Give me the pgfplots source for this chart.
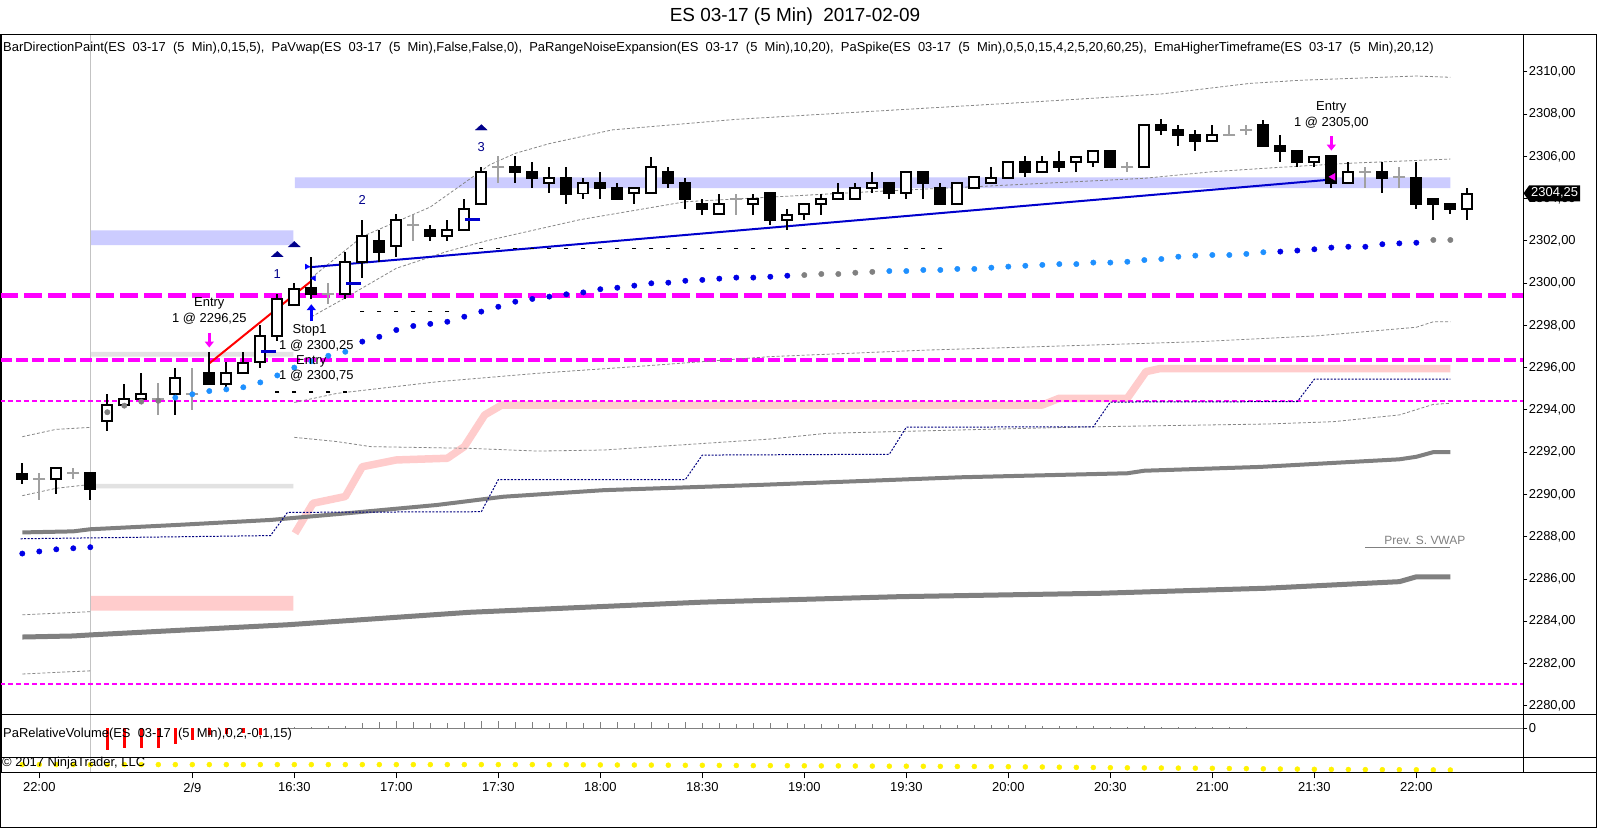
\documentclass[border=0pt]{standalone}
\usepackage{fontspec}
\setmainfont{Liberation Sans}
\usepackage{pgfplots}
\pgfplotsset{compat=1.18}
\usepackage{pgfplotstable}
\usetikzlibrary{arrows.meta,shapes.symbols}

\definecolor{mag}{RGB}{255,0,255}
\definecolor{pinkband}{RGB}{255,204,204}
\definecolor{lav}{RGB}{204,204,255}
\definecolor{lgband}{RGB}{226,226,226}
\definecolor{vwapblue}{RGB}{0,0,230}
\definecolor{vwaplight}{RGB}{30,144,255}
\definecolor{vwapgrey}{RGB}{128,128,128}
\definecolor{dojigray}{RGB}{160,160,160}
\definecolor{navyline}{RGB}{0,0,128}
\definecolor{tri}{RGB}{0,0,139}
\definecolor{spike}{RGB}{0,0,205}
\definecolor{bandgray}{RGB}{135,135,135}
\definecolor{emagray}{RGB}{128,128,128}
\definecolor{sessgray}{RGB}{195,195,195}

% ---------- candles ----------
\pgfplotstableread{
x o h l c
0 2291.00 2291.50 2290.50 2290.75
4 2291.00 2291.00 2289.75 2290.25
11 2295.75 2296.75 2295.25 2295.25
17 2299.75 2301.25 2299.25 2299.50
21 2302.00 2302.50 2301.00 2301.50
24 2302.50 2302.75 2302.00 2302.25
29 2305.50 2306.00 2304.75 2305.25
30 2305.25 2305.75 2304.50 2305.00
32 2305.00 2305.50 2303.75 2304.25
34 2304.75 2305.25 2304.00 2304.50
35 2304.50 2304.75 2304.00 2304.00
38 2305.25 2305.50 2304.50 2304.75
39 2304.75 2305.00 2303.50 2304.00
40 2303.75 2304.00 2303.25 2303.50
44 2304.25 2304.25 2302.75 2303.00
51 2304.75 2304.75 2304.00 2304.25
53 2305.25 2305.25 2304.00 2304.75
54 2304.50 2304.75 2303.75 2303.75
59 2305.75 2306.00 2305.00 2305.25
61 2305.75 2306.25 2305.25 2305.50
64 2306.25 2306.25 2305.50 2305.50
67 2307.50 2307.75 2307.00 2307.25
68 2307.25 2307.50 2306.50 2307.00
69 2307.00 2307.25 2306.25 2306.75
73 2307.50 2307.75 2306.50 2306.50
74 2306.50 2307.00 2305.75 2306.25
75 2306.25 2306.25 2305.50 2305.75
77 2306.00 2306.00 2304.50 2304.75
80 2305.25 2305.75 2304.25 2305.00
82 2305.00 2305.75 2303.50 2303.75
83 2304.00 2304.00 2303.00 2303.75
84 2303.75 2303.75 2303.25 2303.50
}\downbars

\pgfplotstableread{
x o h l c
2 2290.75 2291.25 2290.00 2291.25
5 2293.50 2294.75 2293.00 2294.25
6 2294.25 2295.25 2294.25 2294.50
7 2294.50 2295.75 2294.50 2294.75
9 2294.75 2296.00 2293.75 2295.50
12 2295.25 2296.25 2295.00 2295.75
13 2295.75 2296.75 2295.75 2296.25
14 2296.25 2298.00 2296.00 2297.50
15 2297.50 2299.50 2297.25 2299.25
16 2299.00 2300.00 2299.00 2299.75
19 2299.50 2301.50 2299.25 2301.00
20 2301.00 2303.00 2300.25 2302.25
22 2301.75 2303.25 2301.25 2303.00
25 2302.25 2303.00 2302.00 2302.50
26 2302.50 2304.00 2302.50 2303.50
27 2303.75 2305.50 2303.75 2305.25
31 2304.75 2305.50 2304.25 2305.00
33 2304.25 2305.00 2304.00 2304.75
36 2304.25 2304.50 2303.75 2304.50
37 2304.25 2306.00 2304.25 2305.50
41 2303.25 2304.25 2303.25 2303.75
43 2303.75 2304.25 2303.25 2304.00
45 2303.00 2303.50 2302.50 2303.25
46 2303.25 2303.75 2303.00 2303.75
47 2303.75 2304.25 2303.25 2304.00
48 2304.00 2304.75 2304.00 2304.25
49 2304.00 2304.75 2304.00 2304.50
50 2304.50 2305.25 2304.25 2304.75
52 2304.25 2305.25 2304.00 2305.25
55 2303.75 2304.75 2303.75 2304.75
56 2304.50 2305.00 2304.50 2305.00
57 2304.75 2305.50 2304.75 2305.00
58 2305.00 2305.75 2305.00 2305.75
60 2305.25 2306.00 2305.25 2305.75
62 2305.75 2306.00 2305.25 2306.00
63 2305.75 2306.25 2305.50 2306.25
66 2305.50 2307.50 2305.50 2307.50
70 2306.75 2307.50 2306.75 2307.00
76 2305.75 2306.00 2305.50 2306.00
78 2304.75 2305.75 2304.75 2305.25
85 2303.50 2304.50 2303.00 2304.25
}\upbars

\pgfplotstableread{
x o h l
1 2290.75 2291.00 2289.75
3 2291.00 2291.25 2290.75
8 2294.50 2295.25 2293.75
10 2294.75 2296.00 2294.00
18 2299.50 2300.00 2299.00
23 2302.75 2303.25 2302.00
28 2305.50 2306.00 2304.75
42 2304.00 2304.25 2303.25
65 2305.50 2305.75 2305.25
71 2307.00 2307.50 2307.00
72 2307.25 2307.50 2307.00
79 2305.25 2305.50 2304.50
81 2305.00 2305.50 2304.50
}\dojibars

% ---------- VWAP dots ----------
\pgfplotstableread{
x y k
0 2287.20 b
1 2287.30 b
2 2287.40 b
3 2287.45 b
4 2287.50 b
5 2293.89 g
6 2294.20 g
7 2294.39 g
8 2294.43 g
9 2294.58 l
10 2294.74 l
11 2294.89 l
12 2294.97 l
13 2295.07 l
14 2295.30 l
15 2295.63 l
16 2296.00 l
17 2296.30 l
18 2296.56 l
19 2296.75 l
20 2297.23 b
21 2297.46 b
22 2297.78 b
23 2297.97 b
24 2298.07 b
25 2298.17 b
26 2298.41 b
27 2298.65 b
28 2298.88 b
29 2299.12 b
30 2299.25 b
31 2299.36 b
32 2299.47 b
33 2299.56 b
34 2299.71 b
35 2299.78 b
36 2299.88 b
37 2299.99 b
38 2300.02 b
39 2300.11 b
40 2300.15 b
41 2300.21 b
42 2300.26 b
43 2300.26 b
44 2300.30 b
45 2300.35 b
46 2300.38 g
47 2300.43 g
48 2300.43 g
49 2300.49 g
50 2300.53 g
51 2300.57 l
52 2300.57 l
53 2300.62 l
54 2300.62 l
55 2300.67 l
56 2300.67 l
57 2300.73 l
58 2300.78 l
59 2300.82 l
60 2300.86 l
61 2300.90 l
62 2300.90 l
63 2300.97 l
64 2300.97 l
65 2301.01 l
66 2301.09 l
67 2301.14 l
68 2301.25 l
69 2301.30 l
70 2301.33 l
71 2301.33 l
72 2301.38 l
73 2301.46 l
74 2301.49 b
75 2301.54 b
76 2301.60 b
77 2301.68 b
78 2301.72 b
79 2301.72 b
80 2301.84 b
81 2301.88 b
82 2301.91 b
83 2302.04 g
84 2302.04 g
}\vwap

% ---------- small black dashes ----------
\pgfplotstableread{
x y
15 2294.85
16 2294.85
17 2294.85
18 2294.85
19 2294.85
20 2298.65
21 2298.65
22 2298.65
23 2298.65
24 2298.65
25 2298.65
27 2301.65
28 2301.65
29 2301.65
30 2301.65
31 2301.65
32 2301.65
33 2301.65
34 2301.65
35 2301.65
36 2301.65
37 2301.65
38 2301.65
39 2301.65
40 2301.65
41 2301.65
42 2301.65
43 2301.65
44 2301.65
45 2301.65
46 2301.65
47 2301.65
48 2301.65
49 2301.65
50 2301.65
51 2301.65
52 2301.65
53 2301.65
54 2301.65
}\smalldash

% ---------- volume ----------
\pgfplotstableread{
x v
5 -21.7
6 -20.0
7 -19.4
8 -20.0
9 -16.0
10 -11.7
11 -6.7
12 -6.0
13 -5.0
14 -6.7
}\volred

\pgfplotstableread{
x v
16 0.8
17 1.2
18 1.8
19 2.5
20 5.6
21 6.6
22 7.6
23 6.6
24 5.6
25 5.6
26 6.6
27 7.0
28 7.6
29 6.6
30 6.6
31 5.6
32 6.6
33 5.6
34 6.6
35 6.6
36 5.6
37 6.6
38 5.6
39 6.6
40 5.6
41 5.6
42 4.6
43 5.6
44 5.6
45 5.0
46 4.6
47 4.6
48 4.0
49 4.6
50 4.0
51 4.0
52 4.0
53 3.6
54 3.6
55 3.3
56 3.3
57 3.3
58 3.3
59 3.3
60 2.5
61 2.5
62 2.5
63 2.5
64 1.7
65 1.3
66 2.0
67 1.3
68 1.3
69 1.3
70 1.3
71 1.3
72 1.0
82 -1.0
84 -0.5
}\volgrey

\pgfplotstableread{
x y
0 -7.3
1 -7.3
2 -7.3
3 -7.3
4 -7.3
5 -7.3
6 -7.3
7 -7.3
8 -7.3
9 -7.3
10 -7.3
11 -7.3
12 -7.3
13 -7.3
14 -7.3
15 -7.3
16 -7.3
17 -7.3
18 -7.3
19 -7.3
20 -7.3
21 -7.3
22 -7.3
23 -7.3
24 -7.3
25 -7.3
26 -7.3
27 -7.3
28 -7.3
29 -7.3
30 -7.3
31 -7.4
32 -7.4
33 -7.5
34 -7.6
35 -7.7
36 -7.7
37 -7.8
38 -7.9
39 -8.0
40 -8.0
41 -8.1
42 -8.2
43 -8.3
44 -8.3
45 -8.4
46 -8.5
47 -8.6
48 -8.6
49 -8.7
50 -8.8
51 -8.9
52 -8.9
53 -9.0
54 -9.1
55 -9.2
56 -9.2
57 -9.3
58 -9.4
59 -9.6
60 -9.7
61 -9.9
62 -10.1
63 -10.2
64 -10.4
65 -10.5
66 -10.6
67 -10.7
68 -10.8
69 -10.9
70 -11.0
71 -11.2
72 -11.3
73 -11.5
74 -11.7
75 -11.8
76 -12.0
77 -12.1
78 -12.2
79 -12.3
80 -12.4
81 -12.4
82 -12.5
83 -12.6
84 -12.7
}\yellowdots

\begin{document}
\begin{tikzpicture}[x=1bp,y=1bp,font=\fontsize{13}{15}\selectfont]
\path[use as bounding box] (0,0) rectangle (1600,828);
\fill[white] (0,0) rectangle (1600,828);

% ================= MAIN PRICE PANEL =================
\begin{axis}[
  at={(1bp,113.7bp)}, anchor=south west, scale only axis,
  width=1522.3bp, height=680bp,
  xmin=-1.253, xmax=88.294, ymin=2279.593, ymax=2311.775,
  xtick=\empty,
  ytick={2280,2282,2284,2286,2288,2290,2292,2294,2296,2298,2300,2302,2304,2306,2308,2310},
  ytick pos=right, yticklabel pos=right,
  tick align=outside, major tick length=4bp,
  tick style={black, line width=0.8bp},
  axis line style={line width=1bp},
  tick label style={font=\fontsize{13}{15}\selectfont},
  yticklabel style={anchor=west, xshift=-2bp, /pgf/number format/.cd, fixed, fixed zerofill, precision=2, use comma, 1000 sep={}, assume math mode=true},
  clip mode=individual,
]
% bands
\addplot[fill=lav, draw=none] coordinates {(4,2301.8) (15.94,2301.8) (15.94,2302.5) (4,2302.5) (4,2301.8)};
\addplot[fill=lav, draw=none] coordinates {(16.04,2304.5) (84,2304.5) (84,2305.0) (16.04,2305.0) (16.04,2304.5)};
\addplot[fill=lgband, draw=none] coordinates {(4,2296.52) (15.94,2296.52) (15.94,2296.75) (4,2296.75) (4,2296.52)};
\addplot[fill=lgband, draw=none] coordinates {(4,2290.29) (15.94,2290.29) (15.94,2290.5) (4,2290.5) (4,2290.29)};
\addplot[fill=pinkband, draw=none] coordinates {(4,2284.5) (15.94,2284.5) (15.94,2285.2) (4,2285.2) (4,2284.5)};
% session line
\addplot[sessgray, line width=1bp] coordinates {(4,2279.593) (4,2311.775)};
% pink thick line
\addplot[pinkband, line width=7.5bp, line join=round] coordinates {
(16.04,2288.16) (17.1,2289.58) (19,2289.9) (20,2291.31) (22,2291.63) (25,2291.71)
(26,2292.26) (27.2,2293.76) (28.2,2294.23) (60,2294.23) (61,2294.55) (65,2294.55)
(66.1,2295.81) (66.9,2295.95) (84,2295.95)};
% magenta levels
\addplot[mag, line width=5bp, dash pattern=on 18bp off 6bp] coordinates {(-1.3,2299.4) (88.3,2299.4)};
\addplot[mag, line width=3.5bp, dash pattern=on 12bp off 4bp] coordinates {(-1.3,2296.35) (88.3,2296.35)};
\addplot[mag, line width=2bp, dash pattern=on 5bp off 3bp] coordinates {(-1.3,2294.4) (88.3,2294.4)};
\addplot[mag, line width=2bp, dash pattern=on 5bp off 3bp] coordinates {(-1.3,2281.05) (88.3,2281.05)};
% noise expansion bands (thin grey dashed)
\addplot[bandgray, line width=0.8bp, dash pattern=on 3bp off 2bp] coordinates {
(17,2300.25) (20,2302.2) (24,2303.6) (27.5,2305.6) (29,2306.14) (31,2306.6) (34.7,2307.25)
(42,2307.75) (50,2308.13) (60,2308.6) (67,2308.95) (72.2,2309.45) (75.2,2309.6) (82,2309.8) (84,2309.74)};
\addplot[bandgray, line width=0.8bp, dash pattern=on 3bp off 2bp] coordinates {
(17,2298.4) (19,2299.3) (22,2300.7) (25,2301.5) (27.3,2302.0) (32.8,2303.0) (39,2303.85)
(50,2304.33) (56,2304.56) (60,2304.72) (66,2304.96) (70,2305.27) (73.4,2305.45) (78,2305.67) (84,2305.87)};
\addplot[bandgray, line width=0.8bp, dash pattern=on 3bp off 2bp] coordinates {
(16,2294.35) (18.5,2294.78) (24.4,2295.33) (30.3,2295.73) (36.1,2296.05) (44,2296.52) (53.2,2296.83)
(63,2297.07) (69.3,2297.23) (76.1,2297.5) (82,2297.91) (83,2298.17) (84,2298.17)};
\addplot[bandgray, line width=0.8bp, dash pattern=on 3bp off 2bp] coordinates {
(16,2292.7) (18.5,2292.5) (20.5,2292.26) (26.3,2292.18) (30.3,2292.05) (34.2,2292.1) (44,2292.62)
(47.3,2292.89) (55.2,2293.05) (63,2293.2) (73.2,2293.33) (77.1,2293.44) (81,2293.76) (83,2294.26) (84,2294.31)};
% previous session bands
\addplot[bandgray, line width=0.8bp, dash pattern=on 3bp off 2bp] coordinates {(0,2292.73) (2,2293.08) (4,2293.17)};
\addplot[bandgray, line width=0.8bp, dash pattern=on 3bp off 2bp] coordinates {(0,2289.94) (2,2290.29) (4,2290.47)};
\addplot[bandgray, line width=0.8bp, dash pattern=on 3bp off 2bp] coordinates {(0,2284.3) (4,2284.45)};
\addplot[bandgray, line width=0.8bp, dash pattern=on 3bp off 2bp] coordinates {(0,2281.5) (4,2281.65)};
% EMA higher timeframe (thick grey)
\addplot[emagray, line width=4bp, line join=round] coordinates {
(0,2288.2) (3,2288.25) (4,2288.35) (9,2288.55) (14.6,2288.79) (19,2289.1) (24.4,2289.5) (28.3,2289.89)
(34.2,2290.2) (43.4,2290.45) (55.2,2290.81) (65,2291.0) (66,2291.12) (72.8,2291.3) (81,2291.66)
(82,2291.78) (83,2292.0) (84,2292.0)};
\addplot[emagray, line width=5bp, line join=round] coordinates {
(0,2283.25) (3,2283.3) (4,2283.35) (10,2283.6) (15.6,2283.83) (26.3,2284.42) (40,2284.9)
(51.6,2285.16) (63.4,2285.32) (73.2,2285.56) (81,2285.87) (82,2286.1) (84,2286.1)};
% navy step line
\addplot[navyline, line width=1bp, dash pattern=on 2bp off 1.5bp] coordinates {
(-0.1,2287.9) (14.6,2288.05) (15.6,2289.15) (27.0,2289.18) (28.0,2290.7) (39.0,2290.7) (40.0,2291.86)
(51.0,2291.9) (52.0,2293.18) (63.0,2293.2) (64.0,2294.37) (75.0,2294.39) (76.0,2295.45) (84.0,2295.45)};
% prev session VWAP
\addplot[gray, line width=1bp] coordinates {(79,2287.5) (84,2287.5)};
% trade lines
\addplot[red, line width=2bp] coordinates {(11,2296.2) (17,2300.1)};
\addplot[blue!80!black, line width=2bp] coordinates {(16.9,2300.75) (77,2304.9)};
% small black dashes
\addplot[only marks, mark=-, mark size=2bp, mark options={line width=1.2bp, draw=black}] table[x=x,y=y] {\smalldash};

% ---- candles ----
% wicks
\addplot[draw=none, mark=none, error bars/.cd, y dir=both, y explicit, error mark=none,
  error bar style={draw=black, line width=2bp}]
  table[x=x, y expr={(\thisrow{h}+\thisrow{l})/2}, y error expr={(\thisrow{h}-\thisrow{l})/2}] {\downbars};
\addplot[draw=none, mark=none, error bars/.cd, y dir=both, y explicit, error mark=none,
  error bar style={draw=black, line width=2bp}]
  table[x=x, y expr={(\thisrow{h}+\thisrow{l})/2}, y error expr={(\thisrow{h}-\thisrow{l})/2}] {\upbars};
\addplot[draw=none, mark=none, error bars/.cd, y dir=both, y explicit, error mark=none,
  error bar style={draw=dojigray, line width=2bp}]
  table[x=x, y expr={(\thisrow{h}+\thisrow{l})/2}, y error expr={(\thisrow{h}-\thisrow{l})/2}] {\dojibars};
% bodies
\addplot[draw=none, mark=none, error bars/.cd, y dir=both, y explicit, error mark=none,
  error bar style={draw=black, line width=12bp}]
  table[x=x, y expr={(\thisrow{o}+\thisrow{c})/2}, y error expr={abs(\thisrow{o}-\thisrow{c})/2+0.047}] {\downbars};
\addplot[draw=none, mark=none, error bars/.cd, y dir=both, y explicit, error mark=none,
  error bar style={draw=black, line width=12bp}]
  table[x=x, y expr={(\thisrow{o}+\thisrow{c})/2}, y error expr={abs(\thisrow{o}-\thisrow{c})/2+0.047}] {\upbars};
\addplot[draw=none, mark=none, error bars/.cd, y dir=both, y explicit, error mark=none,
  error bar style={draw=white, line width=8bp}]
  table[x=x, y expr={(\thisrow{o}+\thisrow{c})/2}, y error expr={max(abs(\thisrow{o}-\thisrow{c})/2-0.047,0)}] {\upbars};
\addplot[only marks, mark=-, mark size=6bp, mark options={line width=2bp, draw=dojigray}] table[x=x,y=o] {\dojibars};

% ---- VWAP dots ----
\addplot[scatter, only marks, mark=*, mark size=2.7bp, scatter src=explicit symbolic,
  scatter/classes={b={draw=vwapblue, fill=vwapblue}, g={draw=vwapgrey, fill=vwapgrey}, l={draw=vwaplight, fill=vwaplight}}]
  table[x=x, y=y, meta=k] {\vwap};

% ---- spike dashes, triangles, arrows ----
\addplot[only marks, mark=-, mark size=7.5bp, mark options={line width=3bp, draw=spike}] coordinates {(14.5,2296.75) (19.5,2300.0) (26.5,2303.0)};
\addplot[only marks, mark=triangle*, mark size=4bp, mark options={fill=tri, draw=tri, xscale=1.7, yscale=0.9}] coordinates {(15,2301.33) (16,2301.8) (27,2307.33)};
\addplot[blue, line width=3bp, -{Triangle[width=9bp,length=6bp]}] coordinates {(17,2298.2) (17,2299.0)};
\addplot[mag, line width=3bp, -{Triangle[width=9bp,length=6bp]}] coordinates {(11,2297.65) (11,2296.95)};
\addplot[mag, line width=3bp, -{Triangle[width=9bp,length=6bp]}] coordinates {(77,2306.96) (77,2306.27)};
\addplot[only marks, mark=triangle*, mark size=4bp, mark options={rotate=90, fill=mag, draw=mag}] coordinates {(77.1,2305.03)};
\addplot[only marks, mark=triangle*, mark size=3bp, mark options={rotate=-90, fill=blue, draw=blue}] coordinates {(16.73,2300.78)};
\addplot[only marks, mark=triangle*, mark size=3bp, mark options={rotate=90, fill=blue, draw=blue}] coordinates {(17.15,2300.23)};

% ---- texts ----
\node[text=tri, inner sep=0] at (axis cs:15,2300.42) {1};
\node[text=tri, inner sep=0] at (axis cs:20,2303.93) {2};
\node[text=tri, inner sep=0] at (axis cs:27,2306.43) {3};
\node[inner sep=0] at (axis cs:11,2299.04) {Entry};
\node[inner sep=0] at (axis cs:11,2298.33) {1 @ 2296,25};
\node[inner sep=0] at (axis cs:16.9,2297.78) {Stop1};
\node[inner sep=0] at (axis cs:17.3,2297.02) {1 @ 2300,25};
\node[inner sep=0] at (axis cs:17,2296.28) {Entry};
\node[inner sep=0] at (axis cs:17.3,2295.62) {1 @ 2300,75};
\node[inner sep=0] at (axis cs:77,2308.3) {Entry};
\node[inner sep=0] at (axis cs:77,2307.61) {1 @ 2305,00};
\node[text=gray, inner sep=0, font=\fontsize{12}{14}\selectfont] at (axis cs:82.5,2287.84) {Prev. S. VWAP};
% last price tag
\node[fill=black, text=white, shape=signal, signal to=west, signal pointer angle=110,
  inner xsep=2bp, inner ysep=1.5bp, minimum height=16bp, anchor=west,
  font=\fontsize{13}{15}\selectfont] at (axis cs:88.294,2304.25) {2304,25};
\end{axis}

% ================= RELATIVE VOLUME PANEL =================
\begin{axis}[
  at={(1bp,70.7bp)}, anchor=south west, scale only axis,
  width=1522.3bp, height=43bp,
  xmin=-1.253, xmax=88.294, ymin=-29, ymax=14,
  xtick=\empty, ytick={0}, ytick pos=right, yticklabel pos=right,
  tick align=outside, major tick length=4bp,
  tick style={black, line width=0.8bp},
  axis line style={line width=1bp},
  tick label style={font=\fontsize{13}{15}\selectfont},
  yticklabel style={anchor=west, xshift=-2bp, /pgf/number format/assume math mode=true},
  clip mode=individual,
]
\addplot[sessgray, line width=1bp] coordinates {(4,-29) (4,14)};
\addplot[gray, line width=1bp] coordinates {(15.5,0) (88.3,0)};
\addplot[ycomb, mark=none, emagray, line width=1.5bp] table[x=x,y=v] {\volgrey};
\addplot[ycomb, mark=none, red, line width=2.5bp] table[x=x,y=v] {\volred};
\end{axis}

% ================= YELLOW DOT STRIP + TIME AXIS =================
\begin{axis}[
  at={(1bp,55.7bp)}, anchor=south west, scale only axis,
  width=1522.3bp, height=15bp,
  xmin=-1.253, xmax=88.294, ymin=-15, ymax=0,
  ytick=\empty,
  xtick={1,10,16,22,28,34,40,46,52,58,64,70,76,82},
  xticklabels={22:00,2/9,16:30,17:00,17:30,18:00,18:30,19:00,19:30,20:00,20:30,21:00,21:30,22:00},
  xtick pos=bottom, tick align=outside, major tick length=6bp,
  tick style={black, line width=0.8bp},
  axis line style={line width=1bp},
  tick label style={font=\fontsize{13}{15}\selectfont},
  xticklabel style={yshift=-1bp},
  clip mode=individual,
]
\addplot[sessgray, line width=1bp] coordinates {(4,-15) (4,0)};
\addplot[only marks, mark=*, mark size=2.5bp, mark options={draw=yellow, fill=yellow}] table[x=x,y=y] {\yellowdots};
\end{axis}

% ================= frame and texts =================
\draw[line width=1bp] (0.5,1) rectangle (1596.7,793.7);
\draw[line width=1bp] (0.5,113.7) -- (1596.7,113.7);
\draw[line width=1bp] (0.5,70.7) -- (1596.7,70.7);
\draw[line width=1bp] (0.5,55.7) -- (1596.7,55.7);
\draw[line width=1bp] (1523.3,55.7) -- (1523.3,793.7);

\node[font=\fontsize{19}{22}\selectfont] at (795,811) {ES 03-17 (5 Min)~~2017-02-09};
\node[anchor=west, inner sep=0] at (3,779.7) {BarDirectionPaint(ES~~03-17~~(5~~Min),0,15,5),~~PaVwap(ES~~03-17~~(5~~Min),False,False,0),~~PaRangeNoiseExpansion(ES~~03-17~~(5~~Min),10,20),~~PaSpike(ES~~03-17~~(5~~Min),0,5,0,15,4,2,5,20,60,25),~~EmaHigherTimeframe(ES~~03-17~~(5~~Min),20,12)};
\node[anchor=west, inner sep=0] at (3,93.7) {PaRelativeVolume(ES~~03-17~~(5~~Min),0,2,-0,1,15)};
\node[anchor=west, inner sep=0] at (2,64.7) {\textcopyright\ 2017 NinjaTrader, LLC};
\end{tikzpicture}
\end{document}
